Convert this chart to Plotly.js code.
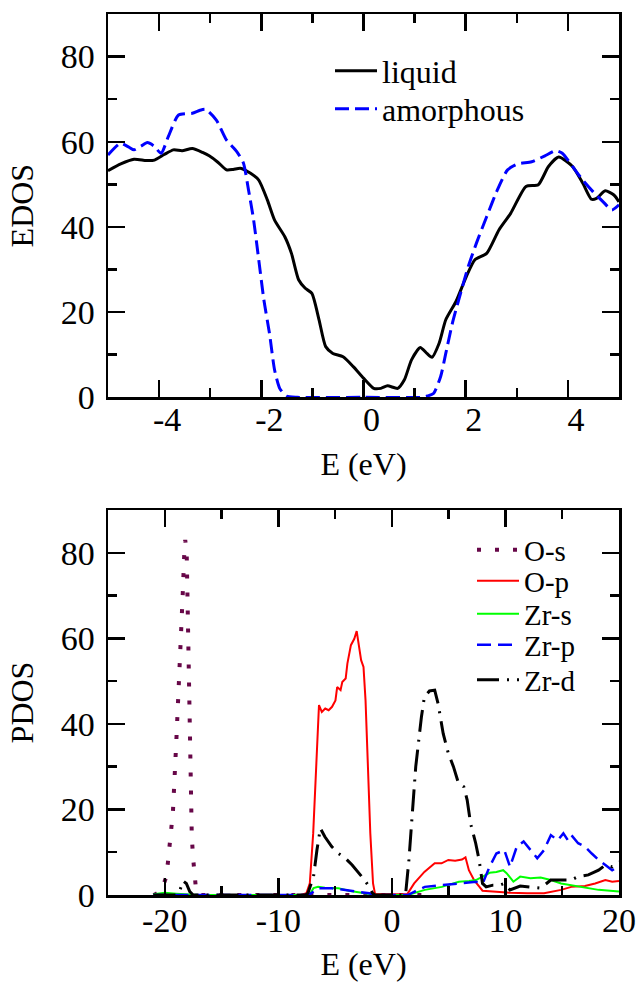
<!DOCTYPE html>
<html><head><meta charset="utf-8">
<script src="https://cdn.plot.ly/plotly-3.0.1.min.js"></script>
<style>html,body{margin:0;padding:0;background:#fff;}#plot{width:636px;height:984px;}</style>
</head><body><div id="plot"></div>
<script>
// ---- top panel: total EDOS ----
const liquidE   = [-5.0,-4.75,-4.49,-4.25,-4.09,-3.9,-3.72,-3.55,-3.35,-3.15,-3.02,-2.85,-2.68,-2.55,-2.41,-2.21,-2.05,-1.88,-1.74,-1.54,-1.41,-1.27,-1.14,-1.01,-0.87,-0.74,-0.60,-0.40,-0.20,0.0,0.20,0.34,0.47,0.67,0.80,0.94,1.11,1.24,1.34,1.48,1.61,1.81,2.01,2.18,2.41,2.65,2.88,3.18,3.42,3.62,3.82,4.09,4.29,4.46,4.56,4.73,4.90,5.0];
const liquidDOS = [53.2,54.8,55.9,55.6,55.7,57.0,58.1,57.9,58.4,57.5,56.7,55.2,53.4,53.5,53.8,52.6,51.0,46.3,41.6,37.7,33.8,27.6,25.6,24.4,18.2,11.9,10.3,9.5,7.2,4.5,2.1,2.1,2.7,2.1,4.1,8.8,11.7,10.3,9.4,12.7,18.2,22.5,28.3,32.3,33.8,39.3,43.2,49.5,49.9,54.2,56.4,54.2,50.3,46.5,46.7,48.5,47.5,45.9];
const amorphE   = [-5.0,-4.76,-4.6,-4.49,-4.35,-4.23,-4.1,-3.96,-3.82,-3.62,-3.35,-3.2,-3.09,-2.88,-2.68,-2.48,-2.35,-2.25,-2.15,-2.05,-1.95,-1.84,-1.74,-1.64,-1.51,-1.3,0.0,1.15,1.25,1.37,1.51,1.61,1.74,1.88,2.05,2.21,2.41,2.62,2.82,3.02,3.29,3.55,3.76,3.89,4.09,4.29,4.49,4.69,4.86,5.0];
const amorphDOS = [56.9,59.6,58.8,58.1,59.0,59.8,59.0,57.3,61.2,66.3,66.7,67.4,67.6,65.1,60.4,57.7,55.0,48.7,41.6,32.3,22.9,15.0,6.4,2.1,0.3,0,0,0,0.3,0.9,4.9,10.3,17.4,23.6,30.7,36.2,42.4,48.7,53.4,54.8,55.3,56.7,57.9,57.3,54.2,51.0,48.3,45.9,44.0,45.2];

// ---- bottom panel: partial DOS ----
const OsE   = [-21.0,-20.8,-20.3,-19.9,-19.73,-19.58,-19.28,-18.98,-18.67,-18.43,-18.28,-18.2,-18.07,-17.98,-17.83,-17.77,-17.62,-17.5,-17.41,-17.26,-17.1,-17.0,3.0];
const OsDOS = [0,0.2,1,4,7.4,11.3,19.5,36.2,53.3,69.6,80,83,80,66,43,30,13.6,8.5,5.4,1.6,0.2,0,0];
const OpE   = [-21,-8.0,-7.53,-7.23,-6.93,-6.63,-6.42,-6.17,-5.87,-5.57,-5.27,-4.97,-4.82,-4.52,-4.37,-4.07,-3.92,-3.61,-3.31,-3.10,-2.86,-2.71,-2.50,-2.32,-2.11,-1.90,-1.66,-1.48,1.36,1.96,2.86,3.77,4.37,4.97,5.57,6.17,6.48,6.78,7.23,7.98,8.89,10.39,11.9,13.4,14.9,15.8,17.0,17.9,18.8,19.4,20.0];
const OpDOS = [0,0,0.4,2.7,14.4,31.5,44.4,42.8,43.6,43.2,44.0,45.5,48.6,47.9,49.8,50.6,54.1,58.4,59.9,61.7,58.0,54.9,53.3,45.5,30.0,14.4,2.7,0.2,0.2,2.7,5.4,7.4,7.4,8.2,8.0,8.3,8.8,5.8,3.5,1.0,0.8,0.5,0.4,0.4,1.2,1.9,2.1,2.7,3.5,3.1,3.3];
const ZrsE   = [-21,-20,-19,-18,-17,-7.5,-7.2,-6.9,-6.5,-5.9,-4.7,-3.8,-2.6,-1.7,-1.4,1.4,2.9,4.4,5.9,6.8,7.4,8.0,8.6,9.2,9.8,10.1,10.7,11.3,12.2,13.1,14.0,14.9,15.8,17.0,18.2,20];
const ZrsDOS = [0.2,0.5,0.3,0.1,0,0,0.3,1.6,1.9,1.7,1.6,1.0,0.5,0.2,0,0,1.2,1.9,3.1,3.3,3.5,4.3,5.2,5.4,5.8,5.1,3.1,4.3,3.9,4.1,3.5,2.7,2.3,1.9,1.2,0.8];
const ZrpE   = [-21,-7.5,-7.1,-6.5,-5.3,-4.1,-2.9,-2.0,-1.5,1.4,2.0,2.9,4.4,5.9,7.4,8.0,8.6,9.2,9.9,10.4,11.0,11.6,12.2,12.8,13.4,14.0,14.6,15.1,15.5,15.8,16.4,17.0,17.6,18.2,18.8,19.4,20];
const ZrpDOS = [0,0,0.4,1.6,1.6,1.2,0.8,0.4,0,0,0.8,1.9,2.3,2.7,3.1,2.7,6.6,9.7,10.5,6.6,11.3,12.5,10.5,8.6,10.5,14.0,12.8,14.4,12.8,14.0,12.1,11.3,9.7,8.2,7.0,5.8,6.6];
const ZrdE   = [-21,-19,-18.7,-18.4,-18.1,-17.8,-17.5,-7.6,-7.4,-6.9,-6.6,-6.3,-5.9,-5.3,-4.7,-4.1,-3.5,-2.9,-2.4,-2.0,-1.7,-1.5,1.2,1.5,1.8,2.1,2.6,2.86,3.31,3.77,4.07,4.52,4.97,5.42,5.87,6.33,6.63,6.93,7.38,7.68,7.98,8.3,8.9,9.5,9.9,10.4,11.3,12.2,13.1,14.0,14.9,15.8,16.4,17.3,18.2,18.8,19.4,20];
const ZrdDOS = [0,0,0.8,3.3,2.7,0.8,0,0,0.4,4.3,10.5,15.6,13.6,11.3,9.7,8.6,7.0,5.1,3.5,1.9,0.4,0,0,8.2,18.3,30.0,41.6,46.3,47.7,47.9,44.7,37.7,33.1,30.0,26.1,25.3,22.2,16.7,12.1,8.2,2.7,1.9,2.3,2.3,2.7,1.2,2.1,1.9,1.6,3.5,3.5,3.5,4.3,4.7,5.8,7.0,6.6,7.8];

// tick labels (hyphen minus as in the original)
const topTickVals = [-4,-2,0,2,4];
const topTickText = ['-4','-2','0','2','4'];
const topMinorVals = [-5,-3,-1,1,3,5];
const botTickVals = [-20,-10,0,10,20];
const botTickText = ['-20','-10','0','10','20'];
const botMinorVals = [-25,-15,-5,5,15];
const yTickVals = [0,20,40,60,80];
const yTickText = ['0','20','40','60','80'];
const yMinorVals = [10,30,50,70,90];

const FONT = '"Liberation Serif","Times New Roman",Times,serif';

const traces = [
  {x: liquidE, y: liquidDOS, name: 'liquid', xaxis:'x', yaxis:'y', mode:'lines',
   line:{color:'#000000', width:3, shape:'spline', smoothing:0.6}, legend:'legend'},
  {x: amorphE, y: amorphDOS, name: 'amorphous', xaxis:'x', yaxis:'y', mode:'lines',
   line:{color:'#0000ff', width:3, dash:'14px,6px', shape:'spline', smoothing:0.6}, legend:'legend2'},
  {x: OsE, y: OsDOS, name: 'O-s', xaxis:'x2', yaxis:'y2', mode:'lines',
   line:{color:'#670748', width:4, dash:'4px,14px'}, legend:'legend3'},
  {x: OpE, y: OpDOS, name: 'O-p', xaxis:'x2', yaxis:'y2', mode:'lines',
   line:{color:'#ff0000', width:2}, legend:'legend4'},
  {x: ZrsE, y: ZrsDOS, name: 'Zr-s', xaxis:'x2', yaxis:'y2', mode:'lines',
   line:{color:'#00ff00', width:2}, legend:'legend5'},
  {x: ZrpE, y: ZrpDOS, name: 'Zr-p', xaxis:'x2', yaxis:'y2', mode:'lines',
   line:{color:'#0000ff', width:2.5, dash:'14px,7px'}, legend:'legend6'},
  {x: ZrdE, y: ZrdDOS, name: 'Zr-d', xaxis:'x2', yaxis:'y2', mode:'lines',
   line:{color:'#000000', width:3, dash:'22px,8px,2px,8px'}, legend:'legend7'}
];

function axisBase(){
  return {showline:true, linecolor:'#000', linewidth:2.5, mirror:'allticks',
    ticks:'inside', ticklen:17, tickwidth:2.5, tickcolor:'#000',
    showgrid:false, zeroline:false, tickfont:{family:FONT, size:34, color:'#000'},
    tickmode:'array'};
}
function legendAt(x, y, size){
  return {x:x, y:y, xanchor:'left', yanchor:'middle', bgcolor:'rgba(0,0,0,0)', borderwidth:0,
    font:{family:FONT, size:size, color:'#000'}, itemwidth:42, tracegroupgap:0};
}
const L = 108, R = 17, T = 14, B = 89, W = 636, H = 984;
const pw = W - L - R, ph = H - T - B;
const px = v => (v - L) / pw;
const py = v => (H - B - v) / ph;

const layout = {
  width: W, height: H, margin:{l:L, r:R, t:T, b:B},
  paper_bgcolor:'#fff', plot_bgcolor:'rgba(0,0,0,0)',
  font:{family:FONT, color:'#000'},
  xaxis: Object.assign(axisBase(), {domain:[0,1], anchor:'y', range:[-5,5],
    tickvals: topTickVals, ticktext: topTickText, ticklabelshift: 8, ticklabelstandoff: -10,
    minor:{tickmode:'array', tickvals: topMinorVals, ticks:'inside', ticklen:9, tickwidth:2.5, tickcolor:'#000'},
    title:{text:'E (eV)', font:{family:FONT, size:32}, standoff:16}}),
  yaxis: Object.assign(axisBase(), {domain:[py(397.3),1], anchor:'x', range:[0,90],
    tickvals: yTickVals, ticktext: yTickText, ticklabelstandoff: 4,
    minor:{tickmode:'array', tickvals: yMinorVals, ticks:'inside', ticklen:9, tickwidth:2.5, tickcolor:'#000'},
    title:{text:'EDOS', font:{family:FONT, size:32}, standoff:18}}),
  xaxis2: Object.assign(axisBase(), {domain:[0,1], anchor:'y2', range:[-25,20],
    tickvals: botTickVals, ticktext: botTickText, ticklabelstandoff: -6,
    minor:{tickmode:'array', tickvals: botMinorVals, ticks:'inside', ticklen:9, tickwidth:2.5, tickcolor:'#000'},
    title:{text:'E (eV)', font:{family:FONT, size:32}, standoff:15}}),
  yaxis2: Object.assign(axisBase(), {domain:[0,py(510)], anchor:'x2', range:[0,90],
    tickvals: yTickVals, ticktext: yTickText, ticklabelstandoff: 4,
    minor:{tickmode:'array', tickvals: yMinorVals, ticks:'inside', ticklen:9, tickwidth:2.5, tickcolor:'#000'},
    title:{text:'PDOS', font:{family:FONT, size:32}, standoff:18}}),
  legend: legendAt(px(330), py(71), 32),
  legend2: legendAt(px(330), py(109), 32),
  legend3: legendAt(px(472), py(550), 29),
  legend4: legendAt(px(472), py(581), 29),
  legend5: legendAt(px(472), py(614), 29),
  legend6: legendAt(px(472), py(645), 29),
  legend7: legendAt(px(472), py(680), 29),
  showlegend: true
};

Plotly.newPlot('plot', traces, layout, {displayModeBar:false, staticPlot:true});
</script>
</body></html>
